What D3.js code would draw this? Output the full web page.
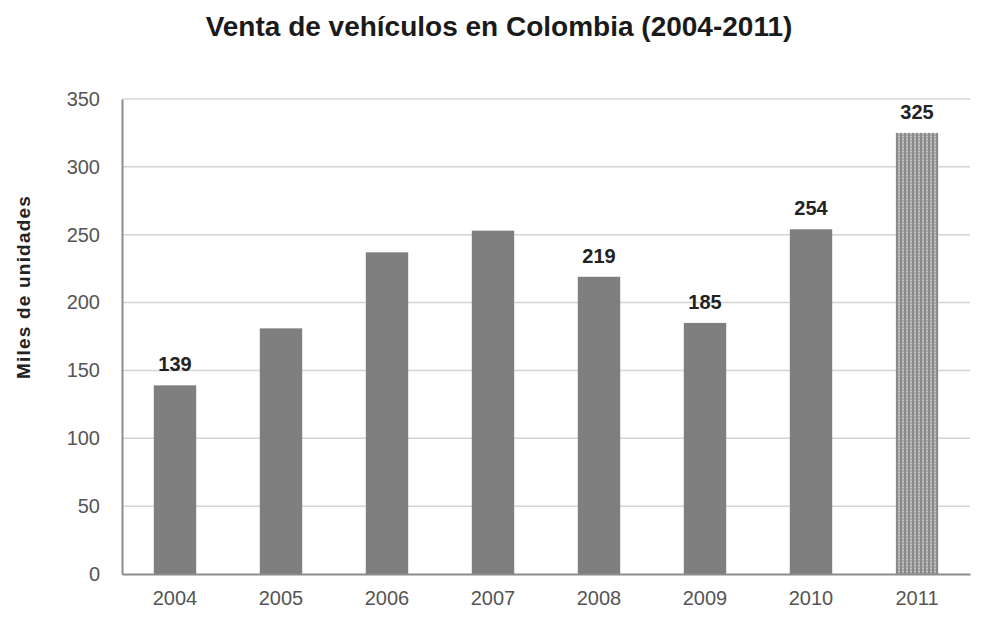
<!DOCTYPE html>
<html>
<head>
<meta charset="utf-8">
<script src="https://cdn.jsdelivr.net/npm/d3@7"></script>
<style>
  body { margin: 0; background: #fff; }
  text { font-family: Arial, 'Liberation Sans', sans-serif; }
</style>
</head>
<body>
<div id="chart"></div>
<script>
const years = ['2004', '2005', '2006', '2007', '2008', '2009', '2010', '2011']
const sales = [139, 181, 237, 253, 219, 185, 254, 325]
const shownLabels = ['139', null, null, null, '219', '185', '254', '325']
const yTicks = [0, 50, 100, 150, 200, 250, 300, 350]

const width = 995
const height = 619
const margin = {top: 99, right: 25, bottom: 45, left: 122}

const svg = d3.select('#chart')
    .append('svg')
    .attr('width', width)
    .attr('height', height)

// stippled fill for the 2011 bar
const defs = svg.append('defs')
const pat = defs.append('pattern')
    .attr('id', 'stipple')
    .attr('patternUnits', 'userSpaceOnUse')
    .attr('width', 4)
    .attr('height', 3)
pat.append('rect').attr('width', 4).attr('height', 3).attr('fill', '#a8a8a8')
pat.append('rect').attr('width', 2).attr('height', 3).attr('fill', '#8a8a8a')
pat.append('rect').attr('x', 2).attr('y', 1).attr('width', 2).attr('height', 1).attr('fill', '#c4c4c4')

const x = d3.scaleBand()
    .domain(years)
    .range([margin.left, width - margin.right])
    .paddingInner(0.6)
    .paddingOuter(0.3)

const y = d3.scaleLinear()
    .domain([0, 350])
    .range([height - margin.bottom, margin.top])

// gridlines
svg.append('g')
    .selectAll('line')
    .data(yTicks.filter(t => t > 0))
    .enter()
    .append('line')
    .attr('x1', margin.left)
    .attr('x2', width - margin.right)
    .attr('y1', d => y(d))
    .attr('y2', d => y(d))
    .attr('stroke', '#d4d4d4')
    .attr('stroke-width', 1.5)

// bars
svg.append('g')
    .selectAll('rect')
    .data(years)
    .enter()
    .append('rect')
    .attr('x', d => x(d))
    .attr('width', x.bandwidth())
    .attr('y', (d, i) => y(sales[i]))
    .attr('height', (d, i) => y(0) - y(sales[i]))
    .attr('fill', d => d === '2011' ? 'url(#stipple)' : '#7f7f7f')

// value labels
svg.append('g')
    .selectAll('text')
    .data(years)
    .enter()
    .filter((d, i) => shownLabels[i] !== null)
    .append('text')
    .attr('x', d => x(d) + x.bandwidth() / 2)
    .attr('y', d => y(sales[years.indexOf(d)]) - 14)
    .attr('text-anchor', 'middle')
    .attr('font-size', 20)
    .attr('font-weight', 'bold')
    .attr('fill', '#222')
    .text(d => shownLabels[years.indexOf(d)])

// y axis
const yAxis = svg.append('g')
    .attr('transform', `translate(${margin.left},0)`)
    .call(d3.axisLeft(y).tickValues(yTicks).tickSize(0).tickPadding(22))
yAxis.select('.domain').attr('stroke', '#8c8c8c').attr('stroke-width', 2)
yAxis.selectAll('text').attr('font-size', 20).attr('fill', '#555')

// x axis
const xAxis = svg.append('g')
    .attr('transform', `translate(0,${y(0)})`)
    .call(d3.axisBottom(x).tickSize(0).tickPadding(17))
xAxis.select('.domain').attr('stroke', '#8c8c8c').attr('stroke-width', 2)
xAxis.selectAll('text').attr('font-size', 20).attr('fill', '#555')

// axis title
svg.append('text')
    .attr('transform', 'translate(30,287) rotate(-90)')
    .attr('text-anchor', 'middle')
    .attr('font-size', 19)
    .attr('font-weight', 'bold')
    .attr('letter-spacing', 1.2)
    .attr('fill', '#222')
    .text('Miles de unidades')

// chart title
svg.append('text')
    .attr('x', 499)
    .attr('y', 36)
    .attr('text-anchor', 'middle')
    .attr('font-size', 28)
    .attr('font-weight', 'bold')
    .attr('fill', '#1a1a1a')
    .text('Venta de vehículos en Colombia (2004-2011)')
</script>
</body>
</html>
